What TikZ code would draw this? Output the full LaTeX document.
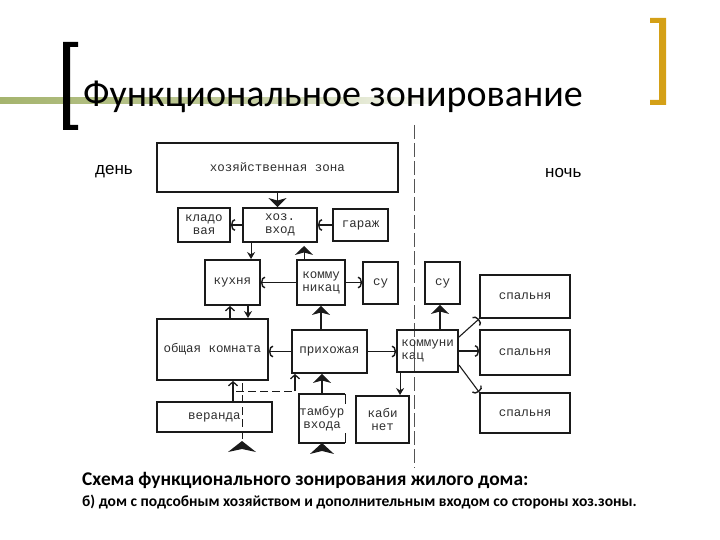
\documentclass[tikz,border=0pt]{standalone}
\usepackage{fontspec}
\setmainfont{Carlito}
\newfontfamily\boxfont{Liberation Mono}
\newfontfamily\labfont{Liberation Sans}
\usetikzlibrary{arrows.meta,calc}
\definecolor{ink}{HTML}{1A1A1A}
\definecolor{txt}{HTML}{2E2E2E}
\definecolor{olivebar}{RGB}{165,180,110}
\definecolor{goldbr}{RGB}{212,160,23}
\begin{document}
\begin{tikzpicture}[x=1pt,y=-1pt,
  box/.style={draw=ink,line width=1.9pt,inner sep=0pt,align=center,
    font=\boxfont\fontsize{12.5}{13}\selectfont,text=txt},
  conn/.style={draw=ink,line width=1.1pt},
  tri/.style={conn,-{Stealth[width=18pt,length=9pt,inset=2.5pt]}},
  barb/.style={conn,-{Arc Barb[width=12pt,length=4pt,line width=1.4pt]}},
  sm/.style={conn,-{Stealth[width=8pt,length=7pt]}},
  sbarb/.style={conn,-{Straight Barb[width=9pt,length=4pt,line width=1.3pt]}},
  dsh/.style={draw=ink,line width=1pt,dash pattern=on 8pt off 4pt},
  zone/.style={font=\labfont\fontsize{17}{20}\selectfont,inner sep=0pt,anchor=base west}
]
\useasboundingbox (0,0) rectangle (720,540);

% header decoration
\shade[left color=olivebar,right color=white,middle color=olivebar!70] (0,98) rectangle (460,104);
\fill[black] (63,42) rectangle (70,130) (63,42) rectangle (78,47) (63,125) rectangle (78,130);
\fill[goldbr] (659,18) rectangle (666,105) (650,18) rectangle (666,23) (650,100) rectangle (666,105);
\node[anchor=base west,inner sep=0pt,font=\fontsize{38}{46}\selectfont] (title) at (83,107) {Функциональное зонирование};

% zone labels
\node[zone] (den) at (95,175) {день};
\node[zone] (noch) at (545,178) {ночь};

% divider
\coordinate (divt) at (414,125);
\coordinate (divb) at (414,468);
\draw[ink!75,line width=1pt,dash pattern=on 14pt off 4pt] (divt) -- (divb);

% boxes
\node[box,minimum width=241pt,minimum height=49pt] (zona) at (277.5,167.5) {хозяйственная зона};
\node[box,minimum width=52pt,minimum height=34pt] (klad) at (204,225) {кладо\\вая};
\node[box,minimum width=74pt,minimum height=34pt] (vhod) at (280,225) {хоз.\\вход};
\node[box,minimum width=55pt,minimum height=32pt] (garazh) at (360.5,225) {гараж};
\node[box,minimum width=55pt,minimum height=45pt] (kuhnya) at (232.5,282.5) {кухня};
\node[box,minimum width=48pt,minimum height=45pt] (komm) at (321,282.5) {комму\\никац};
\node[box,minimum width=35pt,minimum height=42pt] (sua) at (380.5,283) {су};
\node[box,minimum width=35pt,minimum height=42pt] (sub) at (442.5,283) {су};
\node[box,minimum width=111pt,minimum height=61pt] (obsh) at (212.5,349.5) {общая комната};
\node[box,minimum width=75pt,minimum height=43pt] (prih) at (329.5,351.5) {прихожая};
\node[box,minimum width=61pt,minimum height=42pt,align=left] (kommb) at (427.5,351) {коммуни\\ кац};
\node[box,minimum width=90pt,minimum height=43pt] (spa) at (525,296.5) {спальня};
\node[box,minimum width=90pt,minimum height=45pt] (spb) at (525,352.5) {спальня};
\node[box,minimum width=90pt,minimum height=40pt] (spc) at (525,413) {спальня};
\node[box,minimum width=115pt,minimum height=30pt] (veranda) at (214.5,417) {веранда};
\node[box,draw=none,minimum width=44pt,minimum height=47pt] (tambur) at (322,418.5) {тамбур\\входа};
\node[box,minimum width=53pt,minimum height=47pt] (kabinet) at (382.5,419.5) {каби\\нет};
\draw[ink,line width=1.9pt] (tambur.north east) -- (tambur.north west) -- (tambur.south west) -- (tambur.south east);
\draw[ink,line width=1.9pt] (tambur.north east) -- ++(0,10);
\draw[ink,line width=1.9pt] (tambur.south east) -- ++(0,-10);

% connectors
\draw[tri] (zona.south) -- (zona.south |- vhod.north);
\draw[barb] (vhod.west) -- (klad.east);
\draw[barb] (garazh.west) -- (vhod.east);
\draw[sm] ([xshift=9pt]vhod.south west) -- ([xshift=9pt]vhod.south west |- kuhnya.north);
\draw[tri,shorten >=3pt] ([xshift=8pt]komm.north west) -- ([xshift=8pt]komm.north west |- vhod.south);
\draw[barb] (komm.west) -- (komm.west -| kuhnya.east);
\draw[barb] (komm.east) -- (komm.east -| sua.west);
\draw[sbarb] ([xshift=-2.5pt]kuhnya.south |- obsh.north) -- ([xshift=-2.5pt]kuhnya.south);
\draw[sm] ([xshift=15.5pt]kuhnya.south) -- ([xshift=15.5pt]kuhnya.south |- obsh.north);
\draw[tri] (komm.south |- prih.north) -- (komm.south);
\draw[barb] (prih.west) -- (prih.west -| obsh.east);
\draw[barb] (prih.east) -- (prih.east -| kommb.west);
\draw[tri] ([xshift=-2.5pt]sub.south |- kommb.north) -- ([xshift=-2.5pt]sub.south);
\draw[barb] ([yshift=14pt]kommb.east) -- (spa.south west);
\draw[barb] (kommb.east) -- (kommb.east -| spb.west);
\draw[barb] ([yshift=-14pt]kommb.east) -- (spc.north west);
\draw[sm] ([xshift=4pt]kommb.south west) -- ([xshift=4pt]kommb.south west |- kabinet.north);
\draw[sbarb] ([xshift=18.5pt]veranda.north) -- ([xshift=18.5pt]veranda.north |- obsh.south);
\draw[tri] (tambur.north) -- (tambur.north |- prih.south);

% dashed service links and entrances
\coordinate (dstart) at (236,391);
\coordinate (dcorner) at (295,391);
\coordinate (ent) at (242,441);
\draw[dsh] (dstart) -- (dcorner);
\draw[sbarb] (dcorner) -- (dcorner |- prih.south);
\draw[dsh] (242,383) -- (ent);
\fill[ink] (ent) -- ++(-14,11) -- ++(14,-3) -- ++(14,3) -- cycle;
\fill[ink] (tambur.south) -- ++(-12,11) -- ++(12,-3) -- ++(12,3) -- cycle;

% caption
\node[anchor=base west,inner sep=0pt,font=\bfseries\fontsize{19.4}{23}\selectfont] (cap1) at (82,485) {Схема функционального зонирования жилого дома:};
\node[anchor=base west,inner sep=0pt,font=\bfseries\fontsize{15.5}{18}\selectfont] (cap2) at (82,506) {б) дом с подсобным хозяйством и дополнительным входом со стороны хоз.зоны.};
\end{tikzpicture}
\end{document}
